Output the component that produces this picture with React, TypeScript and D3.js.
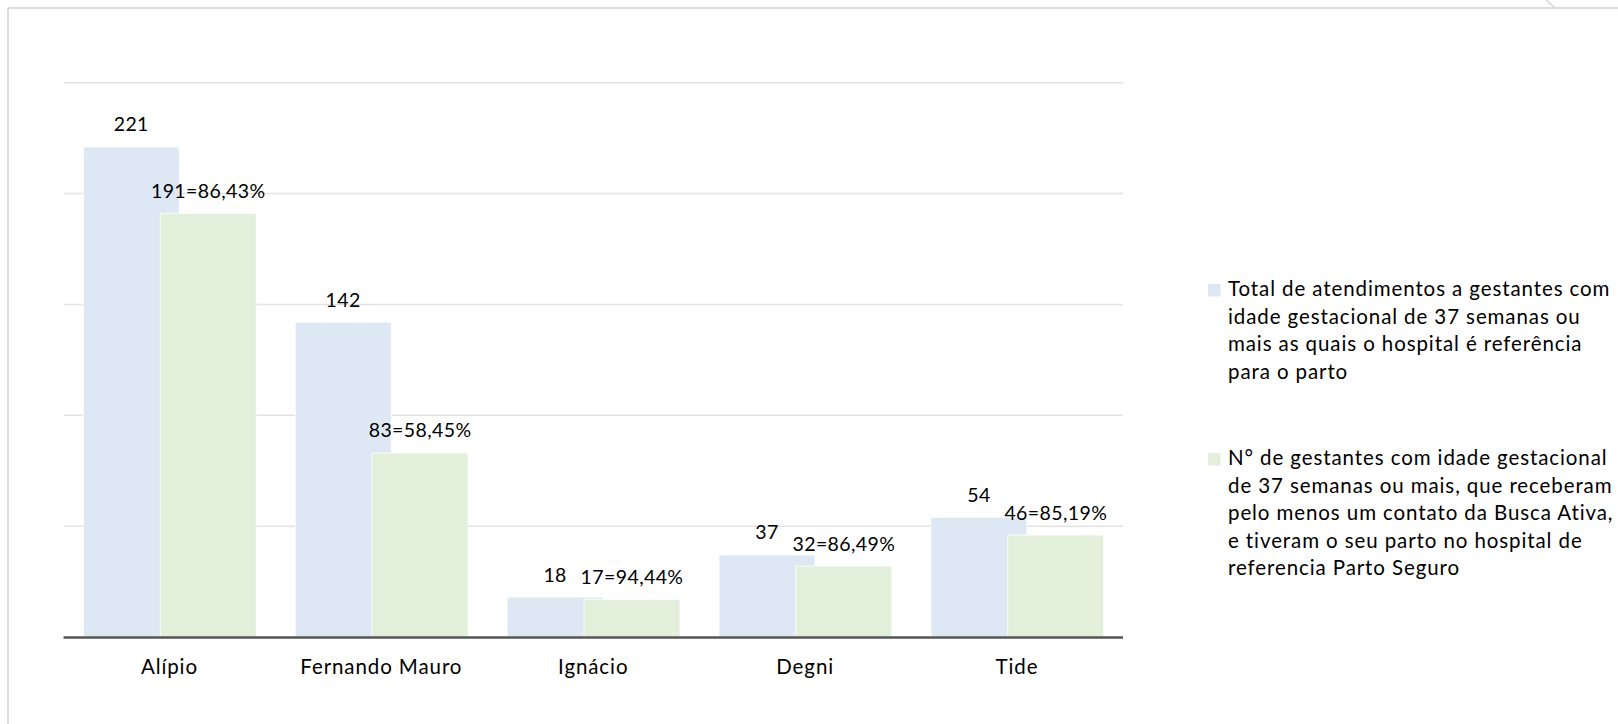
import React from "react";
import * as d3 from "d3";

const categories = ["Alípio", "Fernando Mauro", "Ignácio", "Degni", "Tide"];
const totalValues = [221, 142, 18, 37, 54];
const contactValues = [191, 83, 17, 32, 46];
const yTicks = [0, 50, 100, 150, 200, 250];
const legendTotal = [
  "Total de atendimentos a gestantes com",
  "idade gestacional de 37 semanas ou",
  "mais as quais o hospital é referência",
  "para o parto",
];
const legendContact = [
  "N° de gestantes com idade gestacional",
  "de 37 semanas ou mais, que receberam",
  "pelo menos um contato da Busca Ativa,",
  "e tiveram o seu parto no hospital de",
  "referencia Parto Seguro",
];

const W = 1618;
const H = 724;
const FONT = "Lato, 'Open Sans', sans-serif";
const BLUE = "#DDE8F4";
const GREEN = "#E2EFDA";
const NUM_SIZE = 19.5;
const NUM_SPACING = 0.4;
const TEXT_SIZE = 20.5;
const TEXT_SPACING = 0.9;

export default function App() {
  const x = d3.scaleBand<string>().domain(categories).range([63.5, 1123]).paddingInner(0).paddingOuter(0);
  const y = d3.scaleLinear().domain([0, 250]).range([637, 82.7]);
  const bw = x.bandwidth();
  const offset = bw * 0.0934;
  const barW = bw * 0.453;
  const shift = bw * 0.363;
  const fmtPct = (a: number, b: number) => ((a / b) * 100).toFixed(2).replace(".", ",") + "%";

  return (
    <svg width={W} height={H} style={{ position: "absolute", left: 0, top: 0 }} fontFamily={FONT}>
      <rect x={0} y={0} width={W} height={H} fill="#fff" />
      {/* outer frame */}
      <line x1={8} y1={8} x2={W} y2={8} stroke="#d2d2d2" strokeWidth={1.5} />
      <line x1={8} y1={8} x2={8} y2={H} stroke="#d2d2d2" strokeWidth={1.5} />
      <line x1={1544} y1={-2} x2={1555} y2={8} stroke="#d6d6d6" strokeWidth={1.5} />
      {/* gridlines */}
      {yTicks.slice(1).map((t) => (
        <line key={t} x1={63.5} x2={1123} y1={y(t)} y2={y(t)} stroke="#e3e3e3" strokeWidth={1.5} />
      ))}
      {/* bars */}
      {categories.map((c, i) => {
        const x0 = (x(c) as number) + offset;
        const x1 = x0 + shift;
        return (
          <g key={c}>
            <rect x={x0} y={y(totalValues[i])} width={barW} height={y(0) - y(totalValues[i])} fill={BLUE} stroke="#fff" strokeWidth={0.8} />
            <rect x={x1} y={y(contactValues[i])} width={barW} height={y(0) - y(contactValues[i])} fill={GREEN} stroke="#fff" strokeWidth={0.8} />
            <text x={x0 + barW / 2} y={y(totalValues[i]) - 15.5} textAnchor="middle" fontSize={NUM_SIZE} letterSpacing={NUM_SPACING} fill="#000">
              {totalValues[i]}
            </text>
            <text x={x1 + barW / 2} y={y(contactValues[i]) - 15.5} textAnchor="middle" fontSize={NUM_SIZE} letterSpacing={NUM_SPACING} fill="#000">
              {`${contactValues[i]}=${fmtPct(contactValues[i], totalValues[i])}`}
            </text>
            <text x={(x(c) as number) + bw / 2} y={674} textAnchor="middle" fontSize={TEXT_SIZE} letterSpacing={TEXT_SPACING} fill="#000">
              {c}
            </text>
          </g>
        );
      })}
      {/* axis */}
      <line x1={63.5} x2={1123} y1={y(0) + 0.5} y2={y(0) + 0.5} stroke="#555" strokeWidth={2.5} />
      {/* legend */}
      <rect x={1208} y={284} width={12.5} height={12.5} fill={BLUE} />
      {legendTotal.map((s, i) => (
        <text key={s} x={1228} y={296 + i * 27.6} fontSize={TEXT_SIZE} letterSpacing={TEXT_SPACING} fill="#000">
          {s}
        </text>
      ))}
      <rect x={1208} y={453} width={12.5} height={12.5} fill={GREEN} />
      {legendContact.map((s, i) => (
        <text key={s} x={1228} y={465 + i * 27.6} fontSize={TEXT_SIZE} letterSpacing={TEXT_SPACING} fill="#000">
          {s}
        </text>
      ))}
    </svg>
  );
}
